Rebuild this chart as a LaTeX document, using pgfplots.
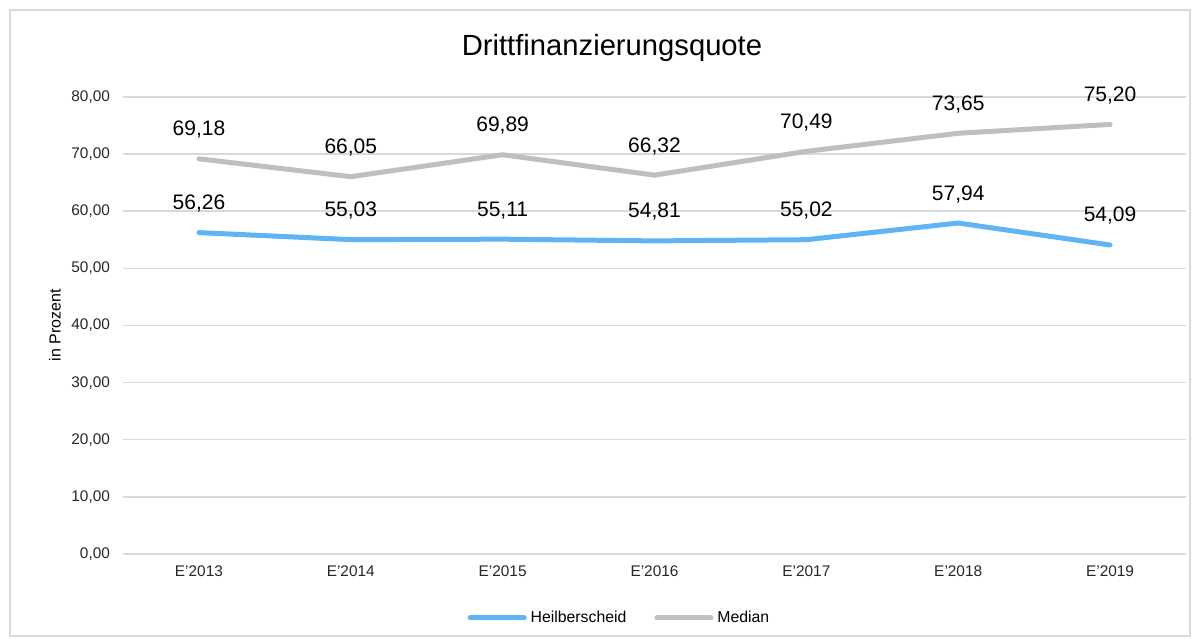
\documentclass[border=0pt]{standalone}
\usepackage{fontspec}
\setmainfont{Liberation Sans}
\usepackage{pgfplots}
\pgfplotsset{compat=1.18}
\definecolor{hblue}{RGB}{95,180,245}
\definecolor{mgray}{RGB}{191,191,191}
\definecolor{gridc}{RGB}{217,217,217}
\begin{document}
\begin{tikzpicture}[x=1pt,y=1pt]
\useasboundingbox (0,0) rectangle (600,320);
\draw[gridc,line width=0.75pt] (5,2) rectangle (595,315);
\begin{axis}[
  at={(61.5pt,43pt)}, anchor=south west,
  scale only axis, width=531.5pt, height=228.5pt,
  xmin=-0.5, xmax=6.5, ymin=0, ymax=80,
  xtick=data,
  xticklabels={E'2013,E'2014,E'2015,E'2016,E'2017,E'2018,E'2019},
  ytick={0,10,...,80},
  ymajorgrids, major grid style={gridc,line width=0.75pt},
  axis line style={draw=none},
  axis x line*=bottom, axis y line*=left,
  x axis line style={gridc,line width=0.75pt},
  tick style={draw=none},
  /pgf/number format/assume math mode=true,
  yticklabel={\pgfmathprintnumber[fixed,fixed zerofill,precision=2,use comma]{\tick}},
  ticklabel style={font=\fontsize{7.7}{9}\selectfont, text=black!85},
  yticklabel style={xshift=-3pt},
  xticklabel style={yshift=-2.5pt},
  ylabel={in Prozent},
  every axis y label/.style={at={(axis description cs:-0.064,0.5)}, rotate=90, anchor=center, font=\fontsize{8}{9}\selectfont},
  title={Drittfinanzierungsquote},
  title style={font=\fontsize{14.6}{16}\selectfont, at={(axis description cs:0.46,1)}, yshift=8pt, anchor=south},
  nodes near coords={\pgfmathprintnumber[fixed,fixed zerofill,precision=2,use comma,assume math mode=true]{\pgfplotspointmeta}},
  every node near coord/.style={font=\fontsize{10.5}{12}\selectfont, text=black, anchor=center, yshift=14.5pt},
  legend style={at={(axis description cs:0.468,-0.14)}, anchor=center, draw=none, fill=none, legend columns=2,
    font=\fontsize{7.9}{9}\selectfont, /tikz/every even column/.append style={column sep=12pt}},
  legend image code/.code={\draw[#1,line width=2.5pt,line cap=round] (0pt,0pt) -- (27pt,0pt);},
  clip=false,
]
\addplot[hblue, line width=2.5pt, line cap=round, line join=round] coordinates {
 (0,56.26) (1,55.03) (2,55.11) (3,54.81) (4,55.02) (5,57.94) (6,54.09)};
\addlegendentry{Heilberscheid}
\addplot[mgray, line width=2.5pt, line cap=round, line join=round] coordinates {
 (0,69.18) (1,66.05) (2,69.89) (3,66.32) (4,70.49) (5,73.65) (6,75.20)};
\addlegendentry{Median}
\end{axis}
\end{tikzpicture}
\end{document}
